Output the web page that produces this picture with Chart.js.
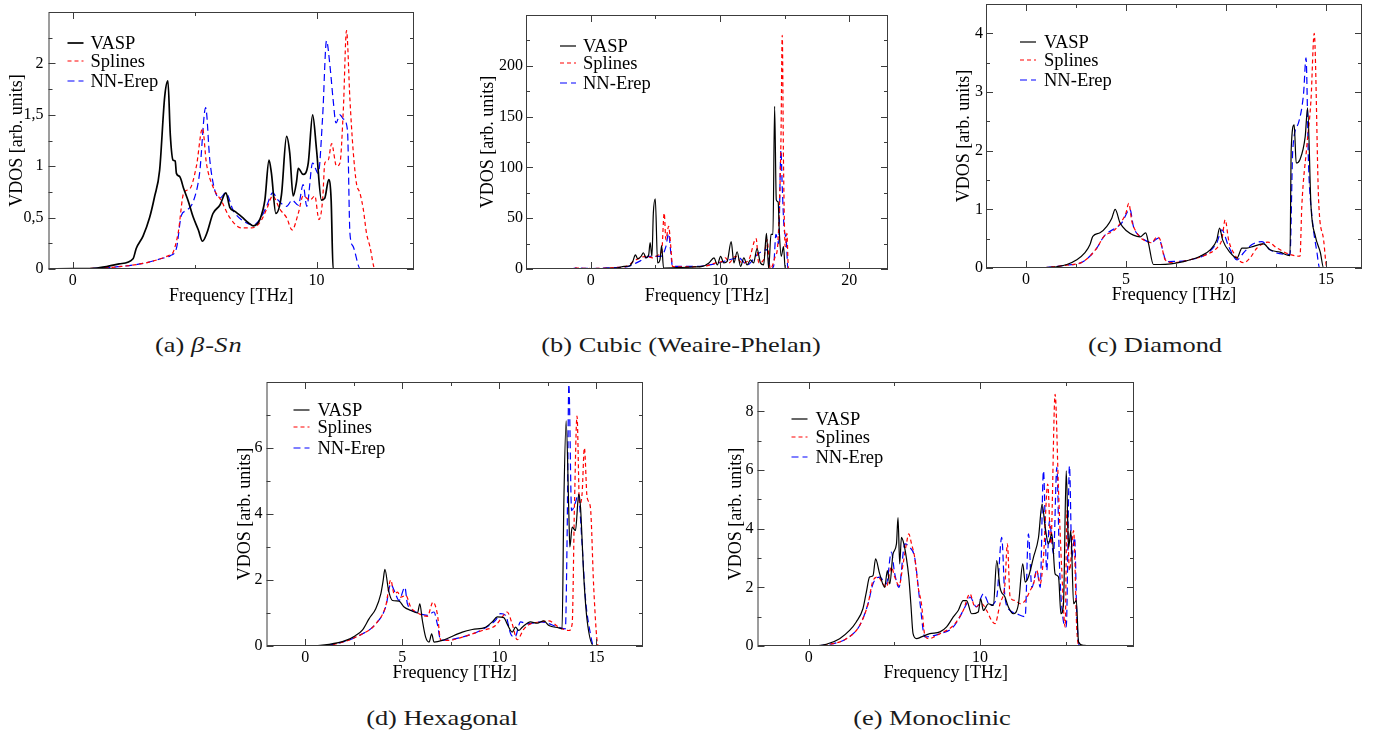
<!DOCTYPE html>
<html>
<head>
<meta charset="utf-8">
<script src="https://cdn.jsdelivr.net/npm/chart.js@4.4.1/dist/chart.umd.min.js"></script>
<style>
  body { margin: 0; background: #fff; width: 1380px; height: 738px; position: relative; overflow: hidden; font-family: "Liberation Serif", serif; }
  canvas { position: absolute; }
  .cap { position: absolute; font-size: 22px; white-space: nowrap; color: #1a1a1a; transform: translate(-50%, -50%) scaleX(1.2); }
  .cap i { letter-spacing: 1px; }
</style>
</head>
<body>
<canvas id="chartA"></canvas>
<canvas id="chartB"></canvas>
<canvas id="chartC"></canvas>
<canvas id="chartD"></canvas>
<canvas id="chartE"></canvas>
<div class="cap" style="left:199px;top:345px">(a) <i>β</i>-<i>Sn</i></div>
<div class="cap" style="left:681px;top:345px">(b) Cubic (Weaire-Phelan)</div>
<div class="cap" style="left:1155px;top:345px">(c) Diamond</div>
<div class="cap" style="left:442px;top:718px">(d) Hexagonal</div>
<div class="cap" style="left:932px;top:718px">(e) Monoclinic</div>
<script>
// ---- data: [frequency THz, VDOS] ----
const betaSnVasp = [[-1,0],[0,0.003],[1,0.01],[1.9,0.05],[2.47,0.1],[2.6,0.2],[2.88,0.32],[3.15,0.5],[3.35,0.7],[3.56,0.96],[3.77,1.68],[3.9,1.83],[4.0,1.3],[4.11,1.06],[4.2,1.05],[4.25,0.93],[4.38,0.9],[4.55,0.78],[4.75,0.65],[4.93,0.51],[5.15,0.38],[5.32,0.27],[5.5,0.35],[5.75,0.54],[6.03,0.62],[6.28,0.74],[6.44,0.6],[6.65,0.56],[6.92,0.51],[7.2,0.45],[7.4,0.42],[7.67,0.48],[7.88,0.67],[8.05,1.06],[8.15,0.93],[8.33,0.54],[8.56,0.72],[8.77,1.29],[8.9,1.13],[9.04,0.71],[9.18,0.85],[9.25,0.98],[9.45,0.92],[9.66,1.03],[9.84,1.5],[10.0,1.16],[10.2,0.67],[10.34,0.69],[10.5,0.87],[10.6,0.67],[10.68,0],[14,0]];
const betaSnSplines = [[-1,0],[0,0.002],[1,0.008],[2,0.025],[3,0.06],[3.6,0.1],[4.0,0.14],[4.11,0.16],[4.32,0.35],[4.55,0.74],[4.8,0.78],[5.07,1.0],[5.32,1.37],[5.48,1.03],[5.75,0.8],[6.1,0.66],[6.44,0.5],[6.92,0.4],[7.33,0.4],[7.67,0.45],[7.95,0.58],[8.2,0.71],[8.5,0.58],[8.77,0.5],[9.0,0.38],[9.25,0.54],[9.45,0.71],[9.73,0.67],[9.93,0.71],[10.1,0.48],[10.25,0.67],[10.34,1.03],[10.48,1.06],[10.62,1.22],[10.82,1.0],[10.96,1.03],[11.1,1.55],[11.23,2.32],[11.37,1.65],[11.5,1.16],[11.64,0.83],[11.78,0.74],[11.92,0.58],[12.05,0.35],[12.19,0.22],[12.4,0],[14,0]];
const betaSnNN = [[-1,0],[0,0.002],[1,0.008],[2,0.025],[3,0.06],[3.6,0.1],[4.0,0.13],[4.25,0.2],[4.45,0.52],[4.66,0.57],[4.93,0.65],[5.2,0.93],[5.45,1.57],[5.62,1.06],[5.82,0.77],[6.03,0.69],[6.28,0.74],[6.58,0.57],[6.92,0.48],[7.4,0.43],[7.67,0.48],[7.95,0.61],[8.2,0.74],[8.42,0.67],[8.77,0.61],[9.0,0.67],[9.25,0.62],[9.45,0.82],[9.6,0.61],[9.84,1.03],[10.07,0.93],[10.25,1.48],[10.41,2.22],[10.55,1.98],[10.68,1.65],[10.8,1.42],[10.96,1.5],[11.1,1.46],[11.27,1.35],[11.37,0.35],[11.5,0.22],[11.8,0],[14,0]];

const cubicVasp = [[-5,0],[-1.5,0],[0,0.3],[1,0.5],[2.0,1],[2.6,2.5],[3.0,3],[3.26,7.5],[3.46,14],[3.64,10],[3.9,12.5],[4.08,16],[4.28,11],[4.49,14],[4.6,26],[4.74,12.5],[4.85,55],[5.0,69],[5.18,6],[5.36,9],[5.49,23],[5.64,1],[7,1.5],[8,2],[8.64,2.6],[9.15,6],[9.54,11],[9.8,4],[10.05,12.5],[10.3,6],[10.56,7.5],[10.87,27],[11.08,6],[11.33,17],[11.6,2.6],[11.85,11],[12.1,4],[12.36,9],[12.6,6],[12.87,20],[13.13,6],[13.38,4],[13.6,35],[13.77,0],[13.95,34],[14.1,34],[14.23,160],[14.36,68],[14.5,66],[14.6,35],[14.74,12.5],[14.92,22],[15.05,0],[23,0]];
const cubicSplines = [[-5,0],[-1.5,0],[-1.2,1],[0,0.5],[2,1.5],[2.74,2.6],[3.5,9],[4.28,12.5],[4.8,11],[5.3,14],[5.49,16],[5.69,55],[5.82,29],[6.03,42],[6.2,22],[6.33,2.6],[6.85,2],[8.9,3],[9.67,6],[10.18,7.5],[10.44,11],[10.7,6],[11.2,12.5],[11.72,6],[12.23,9],[12.8,30],[13.0,6],[13.38,9],[13.64,29],[13.9,0],[14.28,12.5],[14.46,22],[14.59,58],[14.72,127],[14.82,230],[14.92,101],[15.05,22],[15.18,35],[15.3,0],[23,0]];
const cubicNN = [[-5,0],[-1.5,0],[-1.2,1],[0,0.5],[2,1.5],[2.74,2],[3.77,7.5],[4.54,12.5],[5.44,12.5],[5.82,22],[6.03,35],[6.2,16],[6.33,2.6],[8,2.5],[9.92,6],[10.7,9],[11.46,11],[12.1,4],[12.87,14],[13.64,19],[13.9,0],[14.15,2.6],[14.33,34],[14.54,25],[14.72,117],[14.82,81],[14.97,39],[15.13,29],[15.26,0],[23,0]];

const diamondVasp = [[-1.2,0],[0,0],[1.2,0.01],[2.04,0.06],[2.54,0.14],[2.95,0.26],[3.2,0.4],[3.34,0.54],[3.7,0.6],[4.04,0.71],[4.29,0.85],[4.46,1.0],[4.7,0.77],[5.04,0.63],[5.37,0.56],[5.7,0.53],[5.99,0.6],[6.12,0.43],[6.37,0.06],[6.7,0.06],[7.88,0.11],[8.71,0.2],[9.21,0.31],[9.54,0.48],[9.68,0.68],[9.83,0.48],[10.21,0.26],[10.55,0.17],[10.8,0.34],[11.05,0.34],[11.38,0.37],[11.88,0.41],[12.2,0.31],[12.7,0.27],[13.2,0.21],[13.26,2.02],[13.41,2.44],[13.51,1.79],[13.7,1.85],[13.96,2.24],[14.08,2.73],[14.25,1.05],[14.47,0.54],[14.72,0.26],[14.88,0],[16.3,0]];
const diamondSplines = [[-1.2,0],[0.37,0],[2.04,0.05],[2.87,0.11],[3.54,0.34],[3.9,0.54],[4.37,0.63],[4.79,0.8],[5.0,0.94],[5.14,1.1],[5.29,0.8],[5.54,0.6],[5.87,0.48],[6.29,0.43],[6.54,0.53],[6.71,0.48],[6.96,0.14],[7.38,0.09],[8.2,0.14],[9.04,0.23],[9.62,0.37],[9.79,0.48],[9.96,0.82],[10.13,0.48],[10.38,0.26],[10.88,0.09],[11.2,0.17],[11.55,0.34],[12.1,0.44],[12.55,0.34],[13.2,0.23],[13.7,0.2],[13.79,1.05],[14.04,2.07],[14.25,2.87],[14.41,4.0],[14.63,1.16],[14.88,0.48],[15.05,0],[16.3,0]];
const diamondNN = [[-1.2,0],[0.37,0],[2.04,0.05],[2.87,0.11],[3.54,0.34],[3.9,0.54],[4.79,0.77],[5.2,1.0],[5.37,0.71],[5.7,0.54],[6.29,0.44],[6.62,0.51],[7.04,0.11],[8.2,0.14],[9.54,0.43],[9.79,0.65],[10.13,0.37],[10.55,0.14],[10.88,0.26],[11.3,0.4],[11.8,0.45],[12.2,0.31],[13.2,0.23],[13.34,2.02],[13.62,2.47],[13.88,2.98],[14.0,3.58],[14.13,1.73],[14.3,0.88],[14.55,0.26],[14.68,0],[16.3,0]];

const hexVasp = [[-1.1,0],[0,0],[1.23,0.05],[2.09,0.17],[2.6,0.32],[2.95,0.49],[3.29,0.83],[3.63,1.13],[3.89,1.58],[4.01,1.98],[4.1,2.32],[4.29,1.68],[4.49,1.38],[4.83,1.36],[5.09,1.18],[5.43,1.08],[5.78,1.0],[5.9,1.28],[6.03,0.78],[6.2,0.27],[6.38,0.12],[6.51,0.37],[6.63,0.12],[7.06,0.17],[8.09,0.42],[8.6,0.5],[9.29,0.57],[9.63,0.73],[9.89,0.88],[10.23,0.86],[10.4,0.67],[10.66,0.42],[10.83,0.57],[11.0,0.47],[11.18,0.57],[11.6,0.73],[11.95,0.69],[12.29,0.76],[12.55,0.62],[13.06,0.55],[13.23,0.52],[13.32,4.3],[13.44,6.82],[13.58,4.0],[13.63,3.0],[13.75,3.6],[13.92,3.5],[14.09,4.6],[14.18,4.2],[14.35,2.08],[14.52,0.78],[14.87,0],[16.4,0]];
const hexSplines = [[-1.1,0],[0,0],[1.23,0.03],[2.95,0.37],[3.63,0.67],[4.15,1.23],[4.4,2.0],[4.58,1.58],[4.75,1.63],[4.92,1.48],[5.18,1.53],[5.43,1.18],[5.86,0.98],[6.29,0.9],[6.58,1.33],[6.8,0.98],[6.98,0.17],[7.4,0.17],[8.09,0.27],[9.12,0.47],[9.8,0.62],[10.15,0.88],[10.4,1.03],[10.66,0.67],[10.92,0.19],[11.27,0.52],[11.6,0.67],[12.12,0.73],[12.55,0.76],[13.06,0.57],[13.58,0.47],[13.75,0.67],[13.87,4.3],[14.0,6.97],[14.13,4.3],[14.26,4.6],[14.38,6.0],[14.52,4.5],[14.69,4.2],[14.86,1.78],[15.03,0.17],[15.12,0],[16.4,0]];
const hexNN = [[-1.1,0],[0,0],[1.23,0.03],[2.95,0.37],[3.63,0.67],[4.15,1.2],[4.4,1.88],[4.58,1.68],[4.83,1.38],[5.13,1.78],[5.26,1.28],[5.69,1.03],[6.29,0.93],[6.63,1.03],[6.8,0.67],[6.98,0.17],[8.09,0.27],[9.12,0.5],[9.8,0.78],[10.06,0.98],[10.32,0.93],[10.58,0.37],[10.8,0.27],[11.09,0.73],[11.43,0.67],[12.12,0.73],[13.06,0.57],[13.4,0.52],[13.49,3.3],[13.58,7.93],[13.72,4.1],[13.92,4.35],[14.06,4.6],[14.26,3.1],[14.43,1.48],[14.69,0.37],[14.86,0],[16.4,0]];

const monoVasp = [[-2,0],[0,0],[1.02,0.06],[1.8,0.25],[2.38,0.53],[2.77,0.82],[3.16,1.27],[3.36,1.84],[3.55,2.35],[3.75,2.4],[3.9,2.97],[4.14,2.46],[4.43,2.0],[4.59,2.57],[4.73,2.12],[4.92,3.14],[5.12,3.48],[5.21,4.38],[5.31,2.8],[5.41,3.7],[5.55,3.48],[5.7,3.0],[5.84,2.35],[5.96,1.44],[6.09,0.42],[6.29,0.25],[6.58,0.31],[7.07,0.42],[7.66,0.48],[8.05,0.65],[8.44,0.99],[8.73,1.21],[9.02,1.55],[9.22,1.55],[9.51,1.1],[9.9,1.16],[10.04,1.61],[10.2,1.21],[10.49,1.44],[10.78,1.38],[10.98,2.91],[11.17,2.0],[11.46,1.67],[11.66,1.33],[11.95,1.1],[12.25,1.44],[12.5,2.8],[12.64,2.18],[12.83,2.35],[13.13,3.03],[13.42,3.7],[13.63,4.84],[13.81,4.05],[14.0,3.48],[14.2,3.82],[14.39,2.46],[14.59,2.35],[14.73,1.1],[14.88,1.44],[15.04,5.97],[15.18,3.36],[15.31,3.93],[15.47,1.44],[15.63,1.55],[15.76,0.14],[16.05,0.02],[16.64,0],[18,0]];
const monoSplines = [[-2,0],[0,0],[1.02,0.04],[2.19,0.25],[2.97,0.7],[3.46,1.44],[3.75,2.23],[4.04,2.35],[4.34,2.12],[4.53,2.0],[4.82,2.69],[5.02,2.35],[5.27,2.06],[5.51,2.8],[5.7,3.48],[5.84,3.82],[6.0,3.48],[6.19,3.0],[6.39,2.0],[6.58,1.44],[6.78,0.36],[7.0,0.25],[7.66,0.42],[8.44,0.7],[9.02,1.21],[9.41,1.78],[9.71,1.33],[10.1,1.44],[10.39,1.21],[10.68,0.87],[10.88,0.76],[11.17,1.44],[11.46,2.12],[11.6,3.48],[11.76,1.67],[12.05,1.55],[12.34,1.44],[12.64,1.55],[12.93,1.89],[13.13,2.12],[13.32,2.57],[13.52,2.12],[13.71,3.03],[13.96,5.52],[14.14,3.48],[14.39,8.58],[14.59,5.29],[14.78,2.57],[14.98,0.65],[15.08,4.61],[15.23,2.57],[15.47,3.93],[15.66,0.53],[15.82,0],[18,0]];
const monoNN = [[-2,0],[0,0],[1.02,0.04],[2.19,0.25],[2.97,0.7],[3.46,1.44],[3.75,2.12],[4.14,2.35],[4.53,2.12],[4.82,3.2],[5.02,2.46],[5.27,2.0],[5.61,3.48],[5.9,3.36],[6.19,3.0],[6.48,1.55],[6.78,0.31],[7.66,0.42],[8.44,0.65],[9.22,1.44],[9.41,1.67],[9.8,1.33],[10.2,1.78],[10.59,1.38],[10.98,1.67],[11.27,3.7],[11.46,1.67],[11.76,1.21],[12.15,1.1],[12.64,1.0],[12.83,3.82],[13.03,2.0],[13.32,2.57],[13.52,2.0],[13.71,5.97],[13.9,2.57],[14.06,4.27],[14.3,3.14],[14.49,6.09],[14.65,2.69],[14.84,0.99],[15.04,0.65],[15.23,6.14],[15.37,3.03],[15.53,3.7],[15.66,0.99],[15.82,0],[18,0]];

// ---- ticks (labelled majors + unlabelled minors) ----
const ticksAX = [0, 10],          minorAX = [5];
const ticksAY = [0, 0.5, 1, 1.5, 2], minorAY = [0.25, 0.75, 1.25, 1.75, 2.25];
const ticksBX = [0, 10, 20],      minorBX = [-5, 5, 15];
const ticksBY = [0, 50, 100, 150, 200], minorBY = [25, 75, 125, 175, 225];
const ticksCX = [0, 5, 10, 15],   minorCX = [2.5, 7.5, 12.5];
const ticksCY = [0, 1, 2, 3, 4],  minorCY = [0.5, 1.5, 2.5, 3.5];
const ticksDX = [0, 5, 10, 15],   minorDX = [2.5, 7.5, 12.5];
const ticksDY = [0, 2, 4, 6],     minorDY = [1, 3, 5, 7];
const ticksEX = [0, 10],          minorEX = [5, 15];
const ticksEY = [0, 2, 4, 6, 8],  minorEY = [1, 3, 5, 7];

const SERIES_NAMES = ['VASP', 'Splines', 'NN-Erep'];
const X_TITLE = 'Frequency [THz]';
const Y_TITLE = 'VDOS [arb. units]';

// ---- plugins ----
const frameTicks = {
  id: 'frameTicks',
  afterDraw(chart, args, o) {
    const { ctx, chartArea: a } = chart;
    const sx = chart.scales.x, sy = chart.scales.y;
    ctx.save();
    ctx.strokeStyle = '#3c3c3c';
    ctx.lineWidth = 1;
    ctx.strokeRect(a.left + 0.5, a.top + 0.5, a.right - a.left - 1, a.bottom - a.top - 1);
    ctx.beginPath();
    const xMarks = (vals, len) => vals.forEach(v => {
      const px = Math.round(sx.getPixelForValue(v)) + 0.5;
      ctx.moveTo(px, a.bottom); ctx.lineTo(px, a.bottom - len);
      ctx.moveTo(px, a.top); ctx.lineTo(px, a.top + len);
    });
    const yMarks = (vals, len) => vals.forEach(v => {
      const py = Math.round(sy.getPixelForValue(v)) + 0.5;
      ctx.moveTo(a.left, py); ctx.lineTo(a.left + len, py);
      ctx.moveTo(a.right, py); ctx.lineTo(a.right - len, py);
    });
    xMarks(o.xMajor, 7); xMarks(o.xMinor, 4);
    yMarks(o.yMajor, 7); yMarks(o.yMinor, 4);
    ctx.stroke();

    // axis titles
    ctx.fillStyle = '#000';
    ctx.font = '18px "Liberation Serif"';
    ctx.textAlign = 'center';
    ctx.textBaseline = 'middle';
    ctx.fillText(X_TITLE, (a.left + a.right) / 2, a.bottom + o.xTitleGap);
    ctx.translate(a.left - o.yTitleGap, (a.top + a.bottom) / 2);
    ctx.rotate(-Math.PI / 2);
    ctx.fillText(Y_TITLE, 0, 0);
    ctx.restore();
  }
};

const insideLegend = {
  id: 'insideLegend',
  afterDraw(chart, args, o) {
    const { ctx, chartArea: a } = chart;
    ctx.save();
    ctx.font = '18.5px "Liberation Serif"';
    ctx.textBaseline = 'middle';
    chart.data.datasets.forEach((ds, i) => {
      const y = a.top + o.rows[i];
      ctx.strokeStyle = ds.borderColor;
      ctx.lineWidth = ds.borderWidth;
      ctx.setLineDash(ds.borderDash || []);
      ctx.beginPath();
      ctx.moveTo(a.left + o.lineX, y);
      ctx.lineTo(a.left + o.lineX + 16, y);
      ctx.stroke();
      ctx.setLineDash([]);
      ctx.fillStyle = '#000';
      ctx.fillText(ds.label, a.left + o.textX, y + 1);
    });
    ctx.restore();
  }
};

function makePanel(id, p) {
  // canvas reaches 16px above the plot so the y tick labels never push the chart area down
  const padTop = 16, padRight = 6, xAxisH = 38;
  const yAxisW = p.yTitleGap + 12;
  const [l, t, r, b] = p.plot;
  const canvas = document.getElementById(id);
  canvas.width = r - l + yAxisW + padRight;
  canvas.height = b - t + padTop + xAxisH;
  canvas.style.left = (l - yAxisW) + 'px';
  canvas.style.top = (t - padTop) + 'px';

  const styles = [
    { color: '#000000', dash: [], width: p.blackWidth || 1.2 },
    { color: '#ff0000', dash: [4, 3], width: 1.2 },
    { color: '#0000ff', dash: [7, 4], width: 1.2 }
  ];
  const datasets = p.series.map((s, i) => ({
    label: SERIES_NAMES[i],
    data: s.map(pt => ({ x: pt[0], y: pt[1] })),
    borderColor: styles[i].color,
    borderDash: styles[i].dash,
    borderWidth: styles[i].width,
    pointRadius: 0,
    cubicInterpolationMode: 'monotone',
    fill: false
  }));

  const tickFont = { family: 'Liberation Serif', size: 16 };

  return new Chart(canvas.getContext('2d'), {
    type: 'line',
    data: { datasets: datasets },
    options: {
      responsive: false,
      animation: false,
      layout: { padding: { top: padTop, right: padRight, left: 0, bottom: 0 } },
      plugins: {
        legend: { display: false },
        tooltip: { enabled: false },
        frameTicks: {
          xMajor: p.xTicks, xMinor: p.xMinor, yMajor: p.yTicks, yMinor: p.yMinor,
          xTitleGap: 27, yTitleGap: p.yTitleGap
        },
        insideLegend: p.legend
      },
      scales: {
        x: {
          type: 'linear',
          min: p.xRange[0], max: p.xRange[1],
          grid: { display: false, drawTicks: false },
          border: { display: false },
          afterBuildTicks: s => { s.ticks = p.xTicks.map(v => ({ value: v })); },
          afterFit: s => { s.height = xAxisH; },
          ticks: { font: tickFont, color: '#000', padding: 2, maxRotation: 0, autoSkip: false }
        },
        y: {
          type: 'linear',
          min: p.yRange[0], max: p.yRange[1],
          grid: { display: false, drawTicks: false },
          border: { display: false },
          afterBuildTicks: s => { s.ticks = p.yTicks.map(v => ({ value: v })); },
          afterFit: s => { s.width = yAxisW; },
          ticks: {
            font: tickFont, color: '#000', padding: p.yPad, autoSkip: false,
            callback: v => p.comma ? String(v).replace('.', ',') : String(v)
          }
        }
      }
    },
    plugins: [frameTicks, insideLegend]
  });
}

makePanel('chartA', {
  plot: [48, 12, 414, 269], yTitleGap: 31.5, yPad: 5, comma: true, blackWidth: 1.7,
  xRange: [-1, 14], yRange: [0, 2.5],
  xTicks: ticksAX, xMinor: minorAX, yTicks: ticksAY, yMinor: minorAY,
  series: [betaSnVasp, betaSnSplines, betaSnNN],
  legend: { lineX: 19, textX: 42, rows: [31, 49, 69] }
});
makePanel('chartB', {
  plot: [526, 15, 888, 269], yTitleGap: 38, yPad: 3,
  xRange: [-5, 23], yRange: [0, 250],
  xTicks: ticksBX, xMinor: minorBX, yTicks: ticksBY, yMinor: minorBY,
  series: [cubicVasp, cubicSplines, cubicNN],
  legend: { lineX: 34, textX: 57, rows: [31, 48, 68] }
});
makePanel('chartC', {
  plot: [986, 4, 1362, 268], yTitleGap: 22, yPad: 3,
  xRange: [-2, 16.8], yRange: [0, 4.5],
  xTicks: ticksCX, xMinor: minorCX, yTicks: ticksCY, yMinor: minorCY,
  series: [diamondVasp, diamondSplines, diamondNN],
  legend: { lineX: 34, textX: 58, rows: [38, 56, 76] }
});
makePanel('chartD', {
  plot: [266, 382, 643, 646], yTitleGap: 21.5, yPad: 4,
  xRange: [-2, 17.4], yRange: [0, 8],
  xTicks: ticksDX, xMinor: minorDX, yTicks: ticksDY, yMinor: minorDY,
  series: [hexVasp, hexSplines, hexNN],
  legend: { lineX: 27, textX: 51, rows: [28, 45, 66] }
});
makePanel('chartE', {
  plot: [757, 382, 1134, 646], yTitleGap: 21.5, yPad: 4,
  xRange: [-3, 19], yRange: [0, 9],
  xTicks: ticksEX, xMinor: minorEX, yTicks: ticksEY, yMinor: minorEY,
  series: [monoVasp, monoSplines, monoNN],
  legend: { lineX: 34, textX: 58, rows: [37, 55, 75] }
});
</script>
</body>
</html>
